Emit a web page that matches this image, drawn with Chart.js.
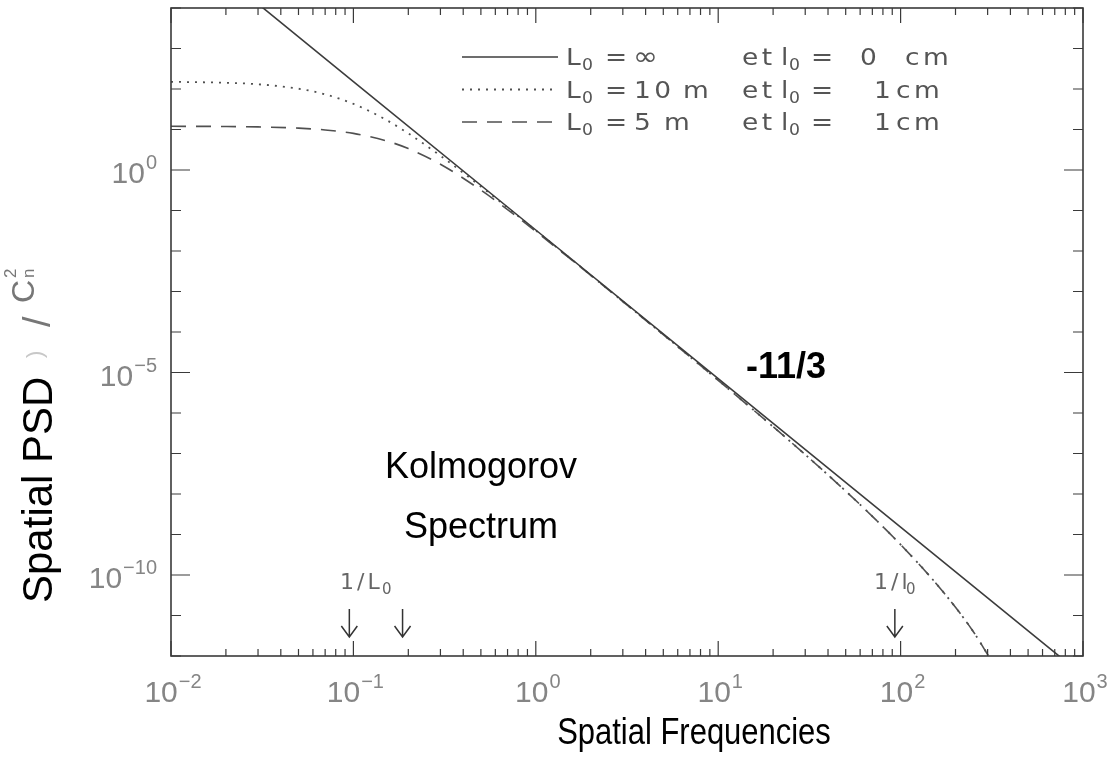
<!DOCTYPE html>
<html>
<head>
<meta charset="utf-8">
<script src="https://cdn.jsdelivr.net/npm/chart.js@4.4.1/dist/chart.umd.min.js"></script>
<style>
  html, body { margin: 0; padding: 0; background: #fff; }
  #wrap { width: 1113px; height: 758px; position: relative; }
</style>
</head>
<body>
<div id="wrap"><canvas id="psd"></canvas></div>
<script>
// frequencies
var freq = [0.01, 0.02, 0.03, 0.05, 0.07, 0.1, 0.15, 0.2, 0.3, 0.5, 0.7, 1, 1.5, 2, 3, 5, 7, 10,
            15, 20, 30, 50, 70, 100, 150, 200, 250, 300, 350];
// L0 = 10 m, l0 = 1 cm (dotted)
var psd10 = [150.4, 142.5, 130.8, 101.7, 73.8, 43.0, 17.65, 8.01, 2.25, 0.390, 0.1176, 0.0321, 0.00729, 0.00254,
             5.69e-4, 8.58e-5, 2.45e-5, 6.43e-6, 1.38e-6, 4.59e-7, 9.38e-8, 1.18e-8, 2.81e-9, 5.63e-10,
             7.73e-11, 1.59e-11, 4.04e-12, 1.09e-12, 3.5e-13];
// L0 = 5 m, l0 = 1 cm (dashed)
var psd5 = [12.0, 11.85, 11.58, 10.79, 9.76, 8.01, 5.32, 3.38, 1.39, 0.319, 0.1057, 0.0304, 0.00712, 0.00250,
            5.66e-4, 8.56e-5, 2.45e-5, 6.43e-6, 1.38e-6, 4.59e-7, 9.38e-8, 1.18e-8, 2.81e-9, 5.63e-10,
            7.73e-11, 1.59e-11, 4.04e-12, 1.09e-12, 3.5e-13];
// pure Kolmogorov, slope -11/3 (solid)
var freqKolmo = [0.02, 0.1, 1, 10, 100, 1000];
var psdKolmo = [5.6e4, 153, 0.033, 7.1e-6, 1.53e-9, 3.3e-13];

// tick labels: mantissa + exponent
var xTickValues = [0.01, 0.1, 1, 10, 100, 1000];
var xTickExp = ["\u22122", "\u22121", "0", "1", "2", "3"];
var xMinorSteps = [2, 3, 4, 5, 6, 7, 8, 9];
var yTickValues = [1e-10, 1e-5, 1];
var yTickExp = ["\u221210", "\u22125", "0"];
var yDecades = [1e-12, 1e-11, 1e-10, 1e-9, 1e-8, 1e-7, 1e-6, 1e-5, 1e-4, 1e-3, 1e-2, 1e-1, 1, 10, 100, 1000, 1e4];
var arrowFreq = [0.095, 0.186, 93];

// legend text pieces: [text, x, size, isSubscript]
var legendRows = [
  {dash: [], tokens: [["L", 566, 23], ["0", 582, 15, 1], ["=", 605, 23], ["\u221E", 633, 26],
                      ["et", 742, 23], ["l", 781, 23], ["0", 789, 15, 1], ["=", 811, 23], ["0", 860, 23], ["cm", 905, 23]]},
  {dash: [2, 6], tokens: [["L", 566, 23], ["0", 582, 15, 1], ["=", 605, 23], ["10", 634, 23], ["m", 683, 23],
                          ["et", 742, 23], ["l", 781, 23], ["0", 789, 15, 1], ["=", 811, 23], ["1", 874, 23], ["cm", 896, 23]]},
  {dash: [15, 10], tokens: [["L", 566, 23], ["0", 582, 15, 1], ["=", 605, 23], ["5", 634, 23], ["m", 664, 23],
                            ["et", 742, 23], ["l", 781, 23], ["0", 789, 15, 1], ["=", 811, 23], ["1", 874, 23], ["cm", 896, 23]]}
];

function pts(xs, ys) {
  return xs.map(function (x, i) { return {x: x, y: ys[i]}; });
}

var sans = "'Liberation Sans', Arial, sans-serif";
var idl = "'DejaVu Sans', sans-serif";
var frameColor = "#3a3a3a";

// "10" with a raised exponent, anchored by align ("center" or "right")
function powerLabel(ctx, exp, x, base, align) {
  ctx.font = "30px " + sans;
  var w1 = ctx.measureText("10").width;
  ctx.font = "20px " + sans;
  var w2 = ctx.measureText(exp).width;
  var total = w1 + 1 + w2;
  var x0 = align === "right" ? x - total : x - total / 2;
  ctx.textAlign = "left";
  ctx.font = "30px " + sans;
  ctx.fillText("10", x0, base);
  ctx.font = "20px " + sans;
  ctx.fillText(exp, x0 + w1 + 1, base - 14);
}

var decorPlugin = {
  id: "decor",
  afterDraw: function (chart) {
    var ctx = chart.ctx;
    var a = chart.chartArea;
    var sx = chart.scales.x, sy = chart.scales.y;
    ctx.save();

    // frame
    ctx.strokeStyle = frameColor;
    ctx.lineWidth = 1.6;
    ctx.strokeRect(a.left, a.top, a.right - a.left, a.bottom - a.top);

    // inward ticks, x
    ctx.lineWidth = 1.2;
    ctx.beginPath();
    xTickValues.forEach(function (d, k) {
      var p = sx.getPixelForValue(d);
      ctx.moveTo(p, a.bottom); ctx.lineTo(p, a.bottom - 15);
      ctx.moveTo(p, a.top); ctx.lineTo(p, a.top + 15);
      if (k < xTickValues.length - 1) {
        xMinorSteps.forEach(function (m) {
          var q = sx.getPixelForValue(d * m);
          ctx.moveTo(q, a.bottom); ctx.lineTo(q, a.bottom - 7);
          ctx.moveTo(q, a.top); ctx.lineTo(q, a.top + 7);
        });
      }
    });
    // inward ticks, y
    yDecades.forEach(function (d) {
      var p = sy.getPixelForValue(d);
      var len = yTickValues.indexOf(d) >= 0 ? 19 : 10;
      ctx.moveTo(a.left, p); ctx.lineTo(a.left + len, p);
      ctx.moveTo(a.right, p); ctx.lineTo(a.right - len, p);
    });
    ctx.stroke();

    // tick labels
    ctx.fillStyle = "#858585";
    ctx.textBaseline = "alphabetic";
    xTickValues.forEach(function (v, i) {
      powerLabel(ctx, xTickExp[i], sx.getPixelForValue(v) + 2, 702, "center");
    });
    yTickValues.forEach(function (v, i) {
      powerLabel(ctx, yTickExp[i], 157, sy.getPixelForValue(v) + 13, "right");
    });

    // legend (wide, spaced lettering like the original plotting font)
    chart.data.datasets.forEach(function (ds, i) {
      var row = legendRows[i];
      var y = 57 + i * 32.5;
      ctx.strokeStyle = ds.borderColor;
      ctx.lineWidth = ds.borderWidth;
      ctx.setLineDash(row.dash);
      ctx.beginPath(); ctx.moveTo(462, y); ctx.lineTo(558, y); ctx.stroke();
      ctx.setLineDash([]);
      ctx.fillStyle = "#555";
      ctx.textAlign = "left";
      ctx.textBaseline = "alphabetic";
      ctx.letterSpacing = "3px";
      row.tokens.forEach(function (t) {
        ctx.save();
        ctx.translate(t[1], y + (t[3] ? 13 : 8));
        ctx.scale(1.15, 1);
        ctx.font = t[2] + "px " + idl;
        ctx.fillText(t[0], 0, 0);
        ctx.restore();
      });
      ctx.letterSpacing = "0px";
    });

    // 1/L0 and 1/l0 markers
    ctx.strokeStyle = "#333";
    ctx.lineWidth = 1.5;
    arrowFreq.forEach(function (f) {
      var p = sx.getPixelForValue(f);
      ctx.beginPath();
      ctx.moveTo(p, 609); ctx.lineTo(p, 637);
      ctx.moveTo(p - 8, 626); ctx.lineTo(p, 637); ctx.lineTo(p + 8, 626);
      ctx.stroke();
    });
    ctx.fillStyle = "#666";
    ctx.textAlign = "left";
    ctx.letterSpacing = "3px";
    ctx.font = "22px " + idl;
    ctx.fillText("1/L", 340, 589);
    ctx.fillText("1/l", 874, 589);
    ctx.font = "15px " + idl;
    ctx.fillText("0", 382, 594);
    ctx.fillText("0", 906, 594);
    ctx.letterSpacing = "0px";

    // annotations
    ctx.fillStyle = "#000";
    ctx.textAlign = "center";
    ctx.font = "36px " + sans;
    ctx.fillText("Kolmogorov", 481, 478);
    ctx.fillText("Spectrum", 481, 538);
    ctx.font = "bold 36px " + sans;
    ctx.fillText("-11/3", 786, 378);

    // x title, slightly condensed as in the original
    ctx.save();
    ctx.translate(694, 744);
    ctx.scale(0.86, 1);
    ctx.font = "36px " + sans;
    ctx.fillText("Spatial Frequencies", 0, 0);
    ctx.restore();

    // y title
    ctx.save();
    ctx.translate(52, 0);
    ctx.rotate(-Math.PI / 2);
    ctx.textAlign = "left";
    ctx.font = "42px " + sans;
    ctx.fillStyle = "#000";
    ctx.fillText("Spatial PSD", -603, 0);
    ctx.fillStyle = "#c8c8c8";
    ctx.font = "22px " + sans;
    ctx.fillText(")", -358, -10);
    ctx.fillStyle = "#777";
    ctx.font = "38px " + sans;
    ctx.fillText("/", -327, -2);
    ctx.font = "32px " + sans;
    ctx.fillText("C", -303, -18);
    ctx.font = "17px " + sans;
    ctx.fillText("2", -278, -36);
    ctx.fillText("n", -278, -18);
    ctx.restore();

    ctx.restore();
  }
};

new Chart("psd", {
  type: "line",
  data: {
    datasets: [
      {
        label: "L0 = inf, l0 = 0 cm",
        data: pts(freqKolmo, psdKolmo),
        borderColor: "#3c3c3c",
        borderWidth: 1.6,
        pointRadius: 0,
        fill: false
      },
      {
        label: "L0 = 10 m, l0 = 1cm",
        data: pts(freq, psd10),
        borderColor: "#505050",
        borderWidth: 1.8,
        borderDash: [2, 6],
        pointRadius: 0,
        cubicInterpolationMode: "monotone",
        fill: false
      },
      {
        label: "L0 = 5 m, l0 = 1cm",
        data: pts(freq, psd5),
        borderColor: "#505050",
        borderWidth: 1.6,
        borderDash: [15, 10],
        pointRadius: 0,
        cubicInterpolationMode: "monotone",
        fill: false
      }
    ]
  },
  options: {
    responsive: true,
    maintainAspectRatio: false,
    animation: false,
    layout: { padding: { top: 8, right: 30, left: 0, bottom: 0 } },
    plugins: {
      legend: { display: false },
      tooltip: { enabled: false }
    },
    scales: {
      x: {
        type: "logarithmic",
        min: 0.01,
        max: 1000,
        grid: { display: false, drawTicks: false },
        border: { display: false },
        ticks: { display: false },
        afterBuildTicks: function (s) {
          s.ticks = xTickValues.map(function (v) { return {value: v}; });
        },
        afterFit: function (s) {
          s.height = 102;
          s.paddingLeft = 0;
          s.paddingRight = 0;
        }
      },
      y: {
        type: "logarithmic",
        min: 1e-12,
        max: 1e4,
        grid: { display: false, drawTicks: false },
        border: { display: false },
        ticks: { display: false },
        afterBuildTicks: function (s) {
          s.ticks = yTickValues.map(function (v) { return {value: v}; });
        },
        afterFit: function (s) {
          s.width = 171;
          s.paddingTop = 0;
          s.paddingBottom = 0;
        }
      }
    }
  },
  plugins: [decorPlugin]
});
</script>
</body>
</html>
